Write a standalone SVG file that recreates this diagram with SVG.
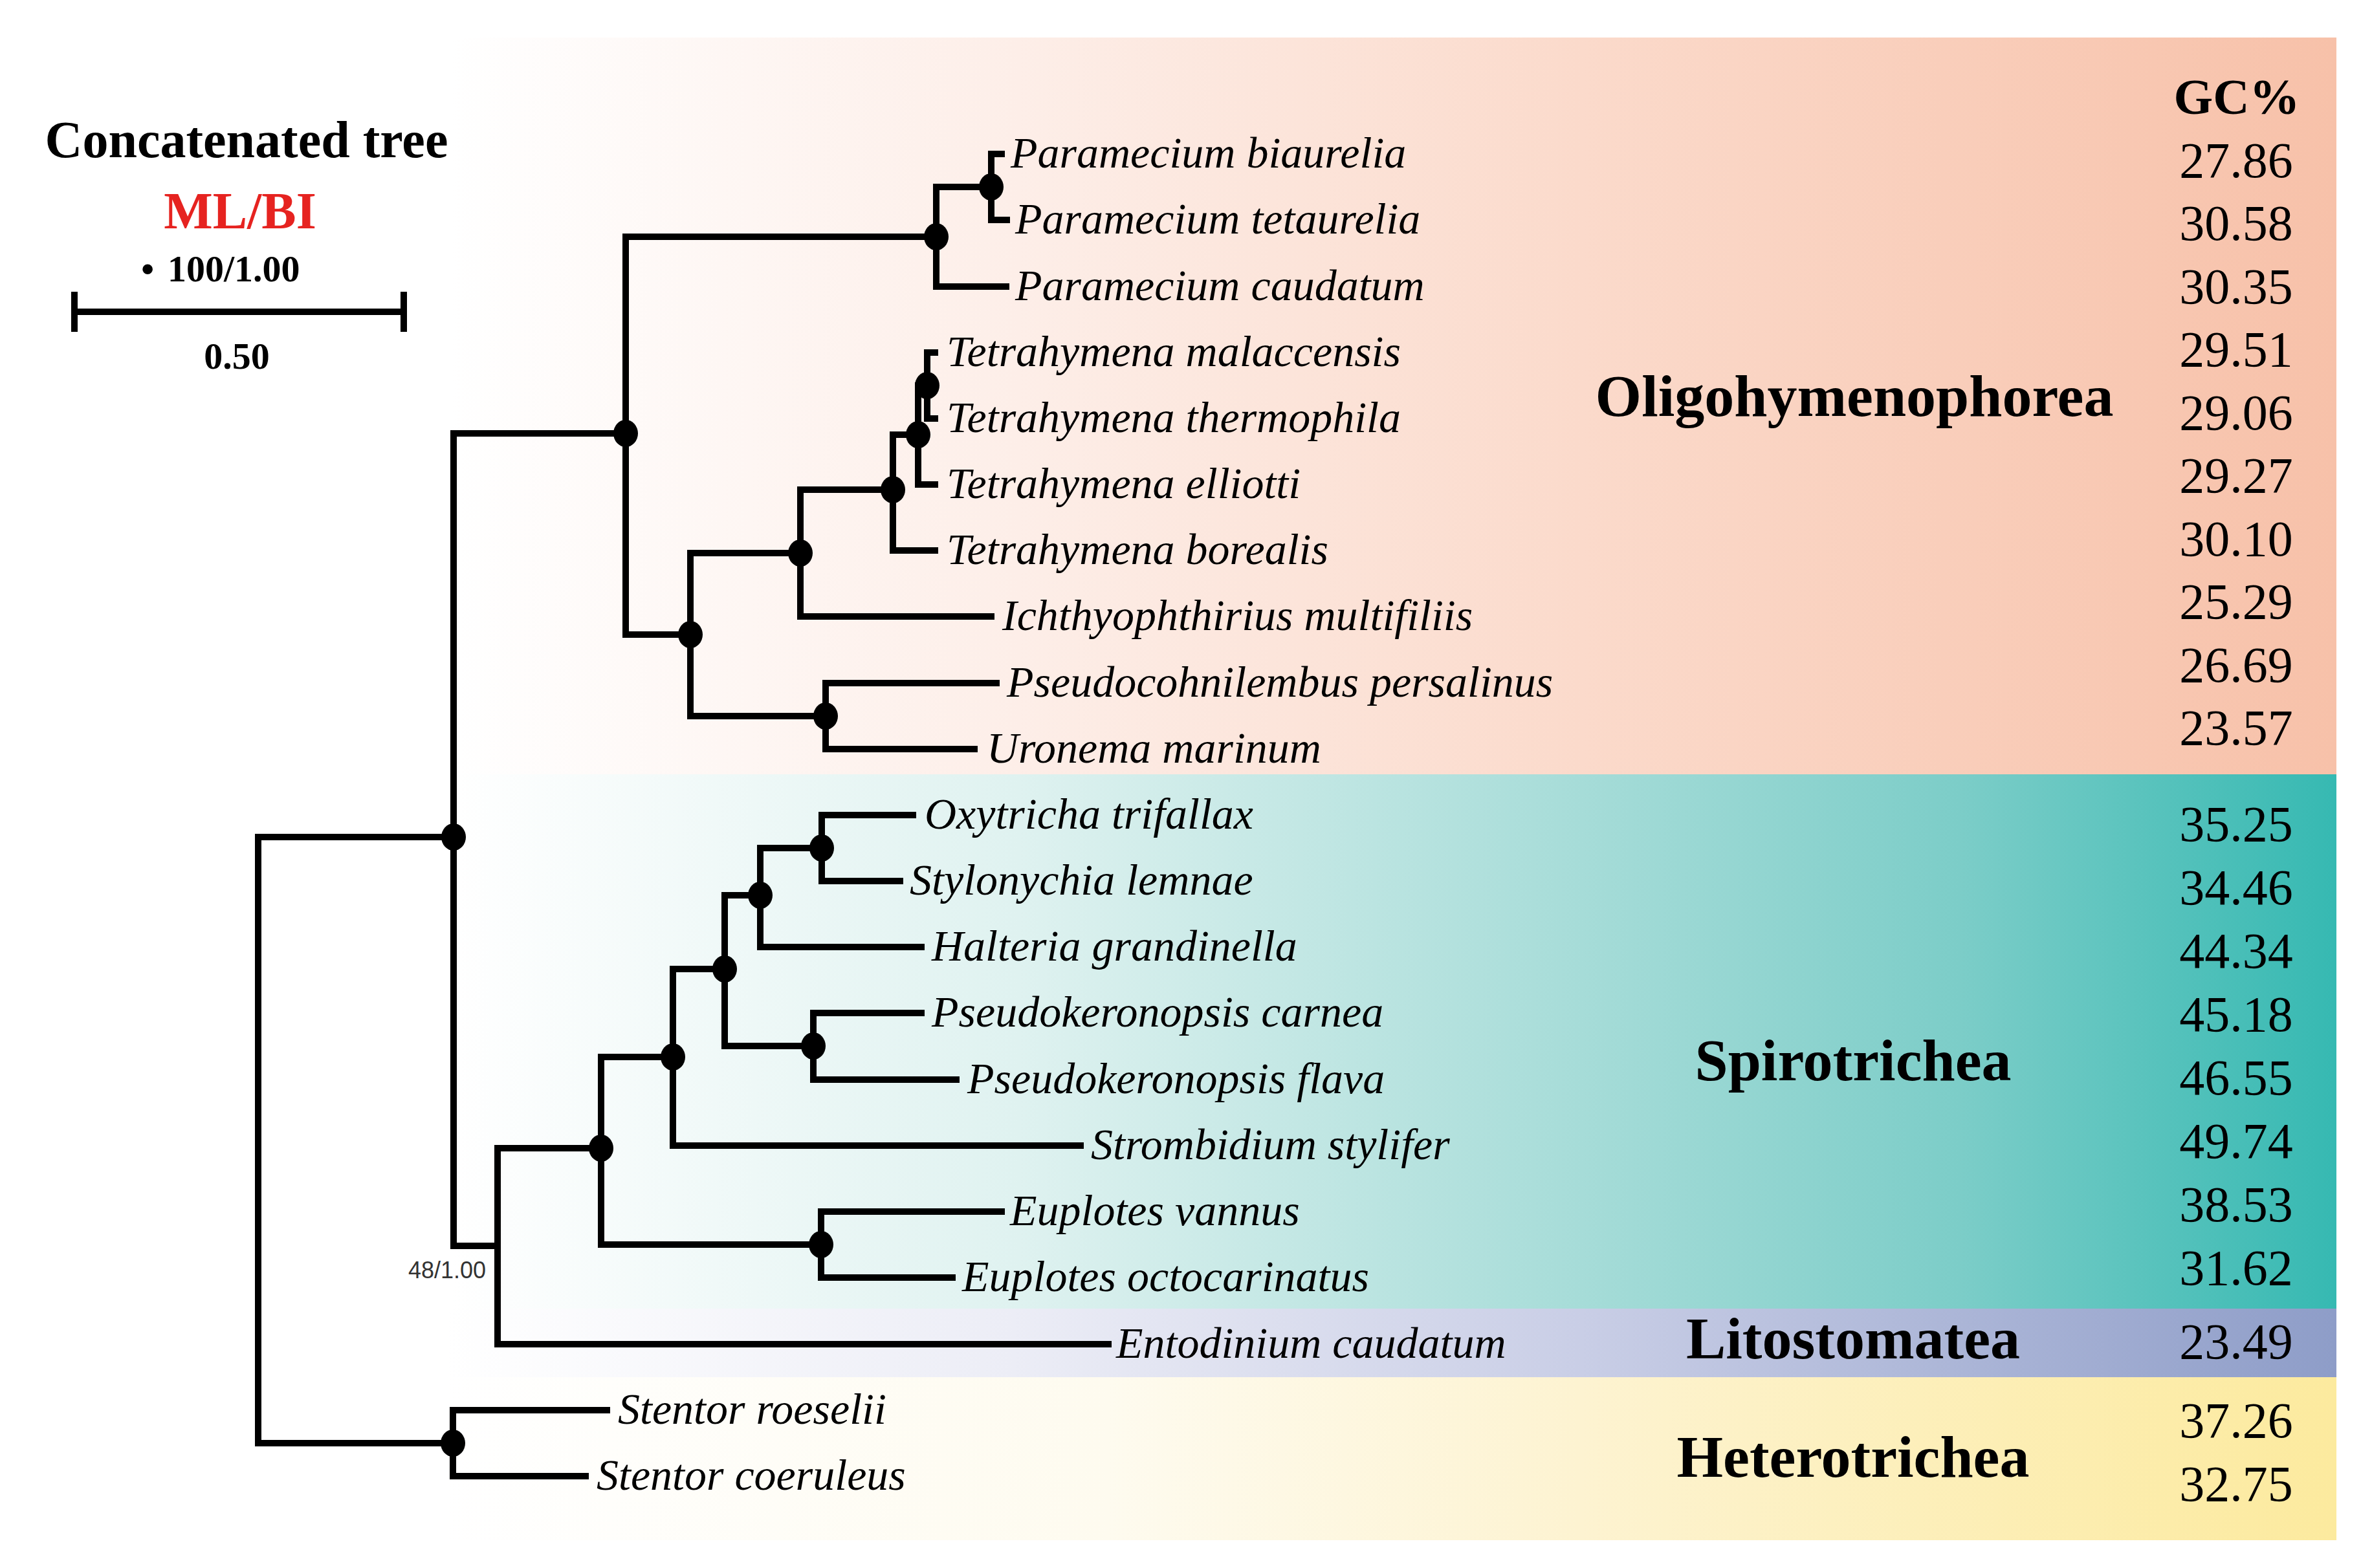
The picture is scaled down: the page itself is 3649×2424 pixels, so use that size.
<svg xmlns="http://www.w3.org/2000/svg" width="3649" height="2424" viewBox="0 0 3649 2424">
<defs>
<linearGradient id="gOligo" gradientUnits="userSpaceOnUse" x1="700" y1="0" x2="3611" y2="0">
<stop offset="0" stop-color="#FFFFFF"/><stop offset="0.3" stop-color="#FDEEE8"/><stop offset="0.6" stop-color="#FBDACB"/><stop offset="1" stop-color="#F7C1A9"/>
</linearGradient>
<linearGradient id="gSpiro" gradientUnits="userSpaceOnUse" x1="700" y1="0" x2="3611" y2="0">
<stop offset="0" stop-color="#FFFFFF"/><stop offset="0.3" stop-color="#DFF2F0"/><stop offset="0.6" stop-color="#A6DCD8"/><stop offset="0.8" stop-color="#7CCDC8"/><stop offset="1" stop-color="#36B9B2"/>
</linearGradient>
<linearGradient id="gLito" gradientUnits="userSpaceOnUse" x1="690" y1="0" x2="3611" y2="0">
<stop offset="0" stop-color="#FFFFFF"/><stop offset="0.3" stop-color="#ECEDF6"/><stop offset="0.6" stop-color="#C9CEE6"/><stop offset="1" stop-color="#8E9DC8"/>
</linearGradient>
<linearGradient id="gHetero" gradientUnits="userSpaceOnUse" x1="690" y1="0" x2="3611" y2="0">
<stop offset="0" stop-color="#FFFFFF"/><stop offset="0.35" stop-color="#FEFBEF"/><stop offset="0.6" stop-color="#FDF3D1"/><stop offset="1" stop-color="#FCEA9E"/>
</linearGradient>
<style>
.br{fill:none;stroke:#000;stroke-width:10;stroke-linejoin:miter;stroke-linecap:butt}
.dot{fill:#000}
.leaf{font-family:"Liberation Serif","Times New Roman",serif;font-style:italic;font-size:68px;fill:#000}
.gc{font-family:"Liberation Serif","Times New Roman",serif;font-size:78px;fill:#000;text-anchor:middle}
.clade{font-family:"Liberation Serif","Times New Roman",serif;font-weight:bold;font-size:92px;fill:#000;text-anchor:middle}
.title{font-family:"Liberation Serif","Times New Roman",serif;font-weight:bold;font-size:80px;text-anchor:middle}
.small{font-family:"Liberation Serif","Times New Roman",serif;font-weight:bold;font-size:58px}
.sup{font-family:"Liberation Sans",Arial,sans-serif;font-size:36px;fill:#333;text-anchor:end}
</style>
</defs>
<rect width="3649" height="2424" fill="#FFFFFF"/>
<g id="bands">
<rect x="700" y="58" width="2911" height="1139" fill="url(#gOligo)"/>
<rect x="700" y="1197" width="2911" height="826" fill="url(#gSpiro)"/>
<rect x="690" y="2023" width="2921" height="106" fill="url(#gLito)"/>
<rect x="690" y="2129" width="2921" height="252" fill="url(#gHetero)"/>
</g>
<g id="legend">
<text class="title" x="381" y="243" fill="#000">Concatenated tree</text>
<text class="title" x="371" y="353" fill="#E62320">ML/BI</text>
<text class="small" x="218" y="435">•<tspan x="259">100/1.00</tspan></text>
<path class="br" d="M115 482 H624 M115 451 V513 M624 451 V513"/>
<text class="small" x="366" y="570" text-anchor="middle">0.50</text>
</g>
<g id="connectors">
<path class="br" d="M701 1294 H399 V2231 H700"/>
<path class="br" d="M967 670 H701 V1926 H769"/>
<path class="br" d="M1447 366 H967 V981 H1067"/>
<path class="br" d="M1532 289 H1447 V443 H1560"/>
<path class="br" d="M1553 238 H1532 V340 H1561"/>
<path class="br" d="M1237 855 H1067 V1107 H1276"/>
<path class="br" d="M1380 757 H1237 V953 H1537"/>
<path class="br" d="M1419 672 H1380 V851 H1450"/>
<path class="br" d="M1433 596 H1419 V749 H1450"/>
<path class="br" d="M1450 545 H1433 V647 H1450"/>
<path class="br" d="M1545 1056 H1276 V1158 H1511"/>
<path class="br" d="M929 1775 H769 V2078 H1718"/>
<path class="br" d="M1040 1634 H929 V1924 H1269"/>
<path class="br" d="M1120 1498 H1040 V1771 H1675"/>
<path class="br" d="M1175 1384 H1120 V1617 H1257"/>
<path class="br" d="M1270 1311 H1175 V1464 H1429"/>
<path class="br" d="M1416 1260 H1270 V1362 H1396"/>
<path class="br" d="M1429 1566 H1257 V1669 H1483"/>
<path class="br" d="M1553 1873 H1269 V1975 H1477"/>
<path class="br" d="M943 2180 H700 V2282 H910"/>
</g>
<g id="internal-nodes">
<g id="node-P1"><ellipse class="dot" cx="1532" cy="289" rx="19" ry="21"/></g>
<g id="node-P2"><ellipse class="dot" cx="1447" cy="366" rx="19" ry="21"/></g>
<g id="node-A"><ellipse class="dot" cx="1433" cy="596" rx="19" ry="21"/></g>
<g id="node-B"><ellipse class="dot" cx="1419" cy="672" rx="19" ry="21"/></g>
<g id="node-C"><ellipse class="dot" cx="1380" cy="757" rx="19" ry="21"/></g>
<g id="node-D"><ellipse class="dot" cx="1237" cy="855" rx="19" ry="21"/></g>
<g id="node-E"><ellipse class="dot" cx="1067" cy="981" rx="19" ry="21"/></g>
<g id="node-F"><ellipse class="dot" cx="1276" cy="1107" rx="19" ry="21"/></g>
<g id="node-G"><ellipse class="dot" cx="967" cy="670" rx="19" ry="21"/></g>
<g id="node-H"><ellipse class="dot" cx="701" cy="1294" rx="19" ry="21"/></g>
<g id="node-I"><text class="sup" x="751" y="1976">48/1.00</text></g>
<g id="node-J"><ellipse class="dot" cx="929" cy="1775" rx="19" ry="21"/></g>
<g id="node-K"><ellipse class="dot" cx="1040" cy="1634" rx="19" ry="21"/></g>
<g id="node-M"><ellipse class="dot" cx="1120" cy="1498" rx="19" ry="21"/></g>
<g id="node-N"><ellipse class="dot" cx="1175" cy="1384" rx="19" ry="21"/></g>
<g id="node-Q"><ellipse class="dot" cx="1270" cy="1311" rx="19" ry="21"/></g>
<g id="node-O"><ellipse class="dot" cx="1257" cy="1617" rx="19" ry="21"/></g>
<g id="node-L"><ellipse class="dot" cx="1269" cy="1924" rx="19" ry="21"/></g>
<g id="node-S"><ellipse class="dot" cx="700" cy="2231" rx="19" ry="21"/></g>
</g>
<g id="leaves">
<g id="leaf-01"><text class="leaf" x="1562" y="259">Paramecium biaurelia</text></g>
<g id="leaf-02"><text class="leaf" x="1569" y="361">Paramecium tetaurelia</text></g>
<g id="leaf-03"><text class="leaf" x="1569" y="464">Paramecium caudatum</text></g>
<g id="leaf-04"><text class="leaf" x="1463" y="566">Tetrahymena malaccensis</text></g>
<g id="leaf-05"><text class="leaf" x="1463" y="668">Tetrahymena thermophila</text></g>
<g id="leaf-06"><text class="leaf" x="1463" y="770">Tetrahymena elliotti</text></g>
<g id="leaf-07"><text class="leaf" x="1463" y="872">Tetrahymena borealis</text></g>
<g id="leaf-08"><text class="leaf" x="1549" y="974">Ichthyophthirius multifiliis</text></g>
<g id="leaf-09"><text class="leaf" x="1556" y="1077">Pseudocohnilembus persalinus</text></g>
<g id="leaf-10"><text class="leaf" x="1525" y="1179">Uronema marinum</text></g>
<g id="leaf-11"><text class="leaf" x="1429" y="1281">Oxytricha trifallax</text></g>
<g id="leaf-12"><text class="leaf" x="1406" y="1383">Stylonychia lemnae</text></g>
<g id="leaf-13"><text class="leaf" x="1440" y="1485">Halteria grandinella</text></g>
<g id="leaf-14"><text class="leaf" x="1440" y="1587">Pseudokeronopsis carnea</text></g>
<g id="leaf-15"><text class="leaf" x="1495" y="1690">Pseudokeronopsis flava</text></g>
<g id="leaf-16"><text class="leaf" x="1686" y="1792">Strombidium stylifer</text></g>
<g id="leaf-17"><text class="leaf" x="1561" y="1894">Euplotes vannus</text></g>
<g id="leaf-18"><text class="leaf" x="1487" y="1996">Euplotes octocarinatus</text></g>
<g id="leaf-19"><text class="leaf" x="1725" y="2099">Entodinium caudatum</text></g>
<g id="leaf-20"><text class="leaf" x="955" y="2201">Stentor roeselii</text></g>
<g id="leaf-21"><text class="leaf" x="922" y="2303">Stentor coeruleus</text></g>
</g>
<g id="clade-labels">
<text class="clade" x="2866" y="643">Oligohymenophorea</text>
<text class="clade" x="2864" y="1670">Spirotrichea</text>
<text class="clade" x="2864" y="2100">Litostomatea</text>
<text class="clade" x="2864" y="2283">Heterotrichea</text>
</g>
<g id="gc-column">
<text class="gc" x="3457" y="176" font-weight="bold">GC%</text>
<text class="gc" x="3456" y="274">27.86</text>
<text class="gc" x="3456" y="371">30.58</text>
<text class="gc" x="3456" y="469">30.35</text>
<text class="gc" x="3456" y="566">29.51</text>
<text class="gc" x="3456" y="664">29.06</text>
<text class="gc" x="3456" y="761">29.27</text>
<text class="gc" x="3456" y="859">30.10</text>
<text class="gc" x="3456" y="956">25.29</text>
<text class="gc" x="3456" y="1054">26.69</text>
<text class="gc" x="3456" y="1151">23.57</text>
<text class="gc" x="3456" y="1300">35.25</text>
<text class="gc" x="3456" y="1398">34.46</text>
<text class="gc" x="3456" y="1496">44.34</text>
<text class="gc" x="3456" y="1594">45.18</text>
<text class="gc" x="3456" y="1692">46.55</text>
<text class="gc" x="3456" y="1790">49.74</text>
<text class="gc" x="3456" y="1888">38.53</text>
<text class="gc" x="3456" y="1986">31.62</text>
<text class="gc" x="3456" y="2100">23.49</text>
<text class="gc" x="3456" y="2222">37.26</text>
<text class="gc" x="3456" y="2320">32.75</text>
</g>
</svg>
